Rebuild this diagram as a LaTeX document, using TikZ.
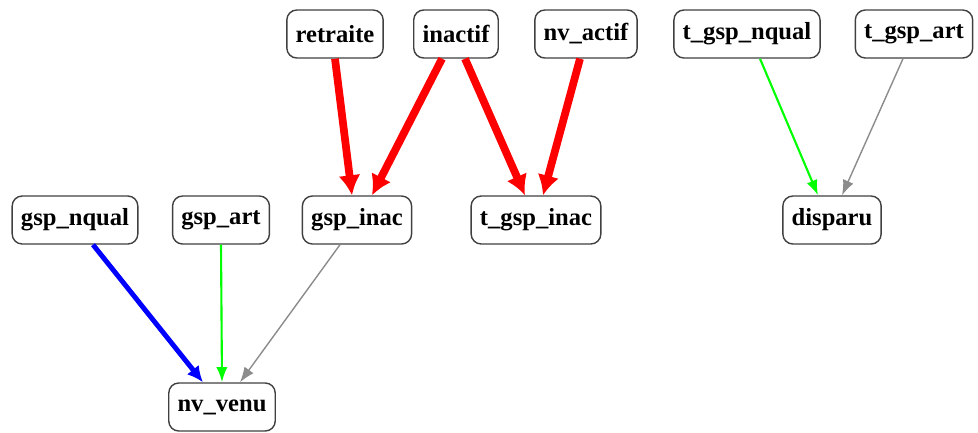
\documentclass[tikz,border=0pt]{standalone}
\usepackage{fontspec}
\setmainfont{Liberation Serif}
\usetikzlibrary{arrows.meta}

\tikzset{
	var/.style={draw=black!75, line width=1pt, rounded corners=2.5mm, fill=white,
	  minimum height=12mm, inner xsep=2.2mm, font=\bfseries\fontsize{17.5}{20}\selectfont},
	rouge/.style={draw=red, line width=5.5pt, -{Latex[length=5mm,width=5.5mm]}},
	bleu/.style={draw=blue, line width=3.5pt, -{Latex[length=4mm,width=3.8mm]}},
	vert/.style={draw=green, line width=1.5pt, -{Latex[length=3.8mm,width=2.8mm]}},
	gris/.style={draw=black!45, line width=1pt, -{Latex[length=3.8mm,width=2.8mm]}}
}

\begin{document}
\begin{tikzpicture}[x=0.25mm, y=-0.25mm]
	\useasboundingbox (0,0) rectangle (978,432);
	% haut
	\node[var] (retraite) at (335,34) {retraite};
	\node[var] (inactif) at (456,34) {inactif};
	\node[var] (nv_actif) at (586,34) {nv\_actif};
	\node[var] (t_gsp_nqual) at (747,34) {t\_gsp\_nqual};
	\node[var] (t_gsp_art) at (914,34) {t\_gsp\_art};
	% milieu
	\node[var] (gsp_nqual) at (75,220) {gsp\_nqual};
	\node[var] (gsp_art) at (221,220) {gsp\_art};
	\node[var] (gsp_inac) at (357,220) {gsp\_inac};
	\node[var] (t_gsp_inac) at (536,220) {t\_gsp\_inac};
	\node[var] (disparu) at (832,220) {disparu};
	% bas
	\node[var] (nv_venu) at (222,407) {nv\_venu};

	\path
	(retraite.south) edge[rouge] ([xshift=-1.25mm]gsp_inac.north)
	([xshift=-3.5mm]inactif.south) edge[rouge] ([xshift=3.75mm]gsp_inac.north)
	([xshift=2.25mm]inactif.south) edge[rouge] ([xshift=-2.75mm]t_gsp_inac.north)
	([xshift=-1.5mm]nv_actif.south) edge[rouge] ([xshift=1.75mm]t_gsp_inac.north)
	([xshift=3.25mm]t_gsp_nqual.south) edge[vert] ([xshift=-3.5mm]disparu.north)
	([xshift=-2.75mm]t_gsp_art.south) edge[gris] ([xshift=2.5mm]disparu.north)
	([xshift=4.5mm]gsp_nqual.south) edge[bleu] ([xshift=-4.75mm]nv_venu.north)
	(gsp_art.south) edge[vert] (nv_venu.north)
	([xshift=-4.25mm]gsp_inac.south) edge[gris] ([xshift=4.5mm]nv_venu.north);
\end{tikzpicture}
\end{document}
